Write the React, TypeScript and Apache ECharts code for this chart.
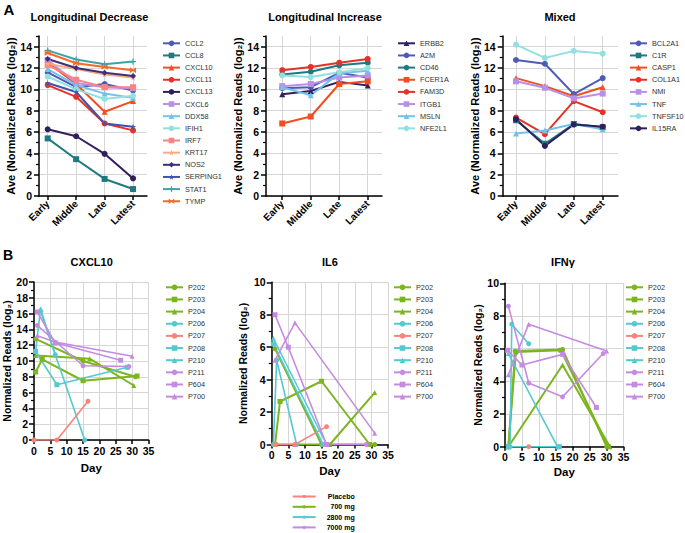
import React, { useEffect, useRef } from 'react';
import * as echarts from 'echarts';

const FONT = '"Liberation Sans", Arial, Helvetica, sans-serif';

const STAGES = ['Early', 'Middle', 'Late', 'Latest'];

const STAR = 'path://M50,0 L61,35 L98,35 L68,57 L79,91 L50,70 L21,91 L32,57 L2,35 L39,35 Z';
const PLUS = 'path://M40,0 L60,0 L60,40 L100,40 L100,60 L60,60 L60,100 L40,100 L40,60 L0,60 L0,40 L40,40 Z';
const BOWTIE = 'path://M0,0 L50,40 L100,0 L100,100 L50,60 L0,100 Z';

// ---- Panel A: Longitudinal Decrease ----
const decreaseGenes = ['CCL2', 'CCL8', 'CXCL10', 'CXCL11', 'CXCL13', 'CXCL6', 'DDX58', 'IFIH1', 'IRF7', 'KRT17', 'NOS2', 'SERPING1', 'STAT1', 'TYMP'];
const decreaseValues = [
  [11.6, 10.2, 10.5, 9.9],
  [5.4, 3.45, 1.6, 0.65],
  [12.5, 10.5, 7.9, 8.9],
  [10.4, 9.3, 6.8, 6.15],
  [6.25, 5.6, 3.95, 1.65],
  [12.75, 10.6, 10.2, 10.1],
  [11.9, 10.4, 9.6, 9.2],
  [11.2, 10.0, 9.1, 9.4],
  [12.3, 10.9, 10.2, 10.2],
  [12.4, 11.9, 11.4, 11.1],
  [12.85, 12.0, 11.55, 11.25],
  [10.6, 9.75, 6.8, 6.5],
  [13.65, 12.8, 12.35, 12.6],
  [13.4, 12.45, 12.1, 11.8],
];
const decreaseColors = ['#4d5bb5', '#1f7a80', '#f04e23', '#e53228', '#2f1f5c', '#b890e6', '#72c2ec', '#92e0e2', '#f98484', '#f9ab80', '#3d2f7c', '#4152ac', '#3aa4a8', '#f26b2a'];
const decreaseSymbols = ['circle', 'rect', 'triangle', 'circle', 'circle', 'rect', 'triangle', 'circle', 'rect', STAR, 'diamond', STAR, PLUS, BOWTIE];

// ---- Panel A: Longitudinal Increase ----
const increaseGenes = ['ERBB2', 'A2M', 'CD46', 'FCER1A', 'FAM3D', 'ITGB1', 'MSLN', 'NFE2L1'];
const increaseValues = [
  [9.55, 9.85, 10.7, 10.35],
  [10.1, 10.2, 11.55, 11.1],
  [11.4, 11.65, 12.25, 12.5],
  [6.8, 7.45, 10.5, 10.75],
  [11.8, 12.1, 12.5, 12.85],
  [10.3, 10.5, 11.1, 11.3],
  [10.2, 9.45, 11.5, 11.75],
  [11.3, 11.15, 11.6, 12.0],
];
const increaseColors = ['#2f1f5c', '#4d5bb5', '#1f7a80', '#f04e23', '#e53228', '#b890e6', '#72c2ec', '#92e0e2'];
const increaseSymbols = ['triangle', 'circle', 'circle', 'rect', 'circle', 'rect', 'triangle', 'circle'];

// ---- Panel A: Mixed ----
const mixedGenes = ['BCL2A1', 'C1R', 'CASP1', 'COL1A1', 'NMI', 'TNF', 'TNFSF10', 'IL15RA'];
const mixedValues = [
  [12.75, 12.4, 9.55, 11.05],
  [7.1, 4.9, 6.75, 6.45],
  [11.05, 10.3, 9.35, 10.2],
  [7.35, 5.8, 8.9, 7.85],
  [10.75, 10.15, 9.15, 9.6],
  [5.85, 6.15, 6.75, 6.25],
  [14.2, 12.95, 13.6, 13.35],
  [7.2, 4.7, 6.7, 6.5],
];
const mixedColors = ['#4d5bb5', '#1f7a80', '#f04e23', '#e53228', '#b890e6', '#72c2ec', '#92e0e2', '#2f1f5c'];
const mixedSymbols = ['circle', 'rect', 'triangle', 'circle', 'rect', 'triangle', 'circle', 'circle'];

// ---- Panel B ----
const patients = ['P202', 'P203', 'P204', 'P206', 'P207', 'P208', 'P210', 'P211', 'P604', 'P700'];
const patientDose = ['700 mg', '700 mg', '700 mg', '2800 mg', 'Placebo', '2800 mg', '2800 mg', '7000 mg', '7000 mg', '7000 mg'];
const patientSymbols = ['circle', 'rect', 'triangle', 'circle', 'circle', 'rect', 'triangle', 'circle', 'rect', 'triangle'];
const doseGroups = ['Placebo', '700 mg', '2800 mg', '7000 mg'];
const doseColors = ['#f8837c', '#7cb51f', '#56c8d0', '#c58be0'];

const cxcl10Points: number[][][] = [
  [[0.5, 12.8], [15, 10.0], [31, 8.0]],
  [[0.5, 8.6], [2.5, 10.2], [15, 7.5], [31.5, 8.1]],
  [[0.5, 10.7], [17, 10.3], [30.5, 6.9]],
  [[2, 16.3], [6.5, 10.8], [15.5, 0]],
  [[0, 0], [7, 0], [16.5, 4.9]],
  [[0.5, 11.2], [7, 7.0], [28.5, 9.2]],
  [[0.5, 11.2], [2, 16.6], [6.5, 10.8]],
  [[1, 14.5], [15, 9.4], [29, 9.3]],
  [[1, 16.2], [6.5, 12.3], [26.5, 10.1]],
  [[1, 13.2], [6.5, 12.4], [30, 10.6]],
];
const il6Points: number[][][] = [
  [[1, 5.9], [15, 0], [31, 0]],
  [[1, 0], [2.5, 2.65], [15, 3.9], [29.5, 0]],
  [[1, 0], [7, 0], [17.5, 0], [31, 3.2]],
  [[0.5, 0], [1.5, 5.2], [7.5, 0]],
  [[1, 0], [7, 0], [16.5, 1.1]],
  [[0.5, 6.2], [15.5, 0]],
  [[0.5, 6.55], [16.5, 0]],
  [[16.5, 0], [28.5, 0]],
  [[1, 8.0], [5, 6.0], [16.5, 0]],
  [[1, 5.2], [7, 7.5], [31, 0.7]],
];
const ifngPoints: number[][][] = [
  [[1, 0], [3, 5.85], [17, 5.95], [30, 0]],
  [[1, 0], [3.2, 5.8], [16.5, 5.9], [30.5, 0]],
  [[1, 0], [17, 5.0], [31, 0]],
  [[1.5, 0], [2, 7.5], [7, 6.3]],
  [[1, 0], [7, 0], [16, 0]],
  [[1, 0], [16, 0]],
  [[1, 5.7], [15.5, 0]],
  [[1, 8.6], [7, 3.9], [17, 3.05], [29, 5.7]],
  [[0.8, 5.9], [5, 5.0], [17, 5.65], [27, 2.4]],
  [[1, 4.4], [7, 7.5], [30, 5.85]],
];

const A_Y_MAJOR = [0, 2, 4, 6, 8, 10, 12, 14];
const A_Y_MINOR = [1, 3, 5, 7, 9, 11, 13, 15];
const STAGE_POS = [1, 2, 3, 4];

const GRID_LINE = '#d6d6d6';
const AXIS_LINE = { show: true, onZero: false, lineStyle: { color: '#000', width: 1.5 } };
const tickLabel = { color: '#000', fontWeight: 'bold' as const, fontSize: 10.5, fontFamily: FONT };

function doseColor(p: number) {
  return doseColors[doseGroups.indexOf(patientDose[p])];
}

function buildOption() {
  const grids = [
    { left: 39, top: 36, width: 108, height: 160 },
    { left: 266, top: 36, width: 116, height: 160 },
    { left: 502.7, top: 36, width: 115.3, height: 160 },
    { left: 34, top: 282, width: 114.5, height: 158 },
    { left: 271.7, top: 282.3, width: 116.3, height: 162.2 },
    { left: 505, top: 283.3, width: 118.5, height: 163.4 },
  ];
  const aXRange = [
    [0.695, 4.49],
    [0.43, 4.5],
    [0.54, 4.53],
  ];
  const aNameGap = [20, 20, 22];
  const bNameGap = [14, 23, 22];
  const bDayGap = [22, 20, 19];
  const bYMax = [20, 10, 10];

  const xAxis: any[] = [];
  const yAxis: any[] = [];
  for (let g = 0; g < 3; g++) {
    xAxis.push({
      type: 'value', gridIndex: g, min: aXRange[g][0], max: aXRange[g][1],
      axisLine: AXIS_LINE,
      axisTick: { show: true, customValues: STAGE_POS, length: 4, lineStyle: { color: '#000', width: 1.5 } },
      axisLabel: { ...tickLabel, fontSize: 10, customValues: STAGE_POS, rotate: 45, margin: 6, formatter: (v: number) => STAGES[Math.round(v) - 1] },
      splitLine: { show: true, lineStyle: { color: GRID_LINE, width: 1 } },
    });
    yAxis.push({
      type: 'value', gridIndex: g, min: 0, max: 15,
      axisLine: AXIS_LINE,
      axisTick: { show: true, customValues: A_Y_MAJOR, length: 5, lineStyle: { color: '#000', width: 1.5 } },
      axisLabel: { ...tickLabel, customValues: A_Y_MAJOR, margin: 7 },
      splitLine: { show: true, lineStyle: { color: GRID_LINE, width: 1.2 } },
      name: 'Ave (Normalized Reads (log\u2082))', nameLocation: 'middle', nameGap: aNameGap[g],
      nameTextStyle: { color: '#000', fontWeight: 'bold', fontSize: 11, fontFamily: FONT },
    });
  }
  for (let b = 0; b < 3; b++) {
    const g = b + 3;
    xAxis.push({
      type: 'value', gridIndex: g, min: 0, max: 35, interval: 5,
      axisLine: AXIS_LINE,
      axisTick: { show: true, length: 4, lineStyle: { color: '#000', width: 1.5 } },
      axisLabel: { ...tickLabel, margin: 5 },
      splitLine: { show: true, lineStyle: { color: GRID_LINE, width: 1 } },
      name: 'Day', nameLocation: 'middle', nameGap: bDayGap[b],
      nameTextStyle: { color: '#000', fontWeight: 'bold', fontSize: 11.5, fontFamily: FONT },
    });
    yAxis.push({
      type: 'value', gridIndex: g, min: 0, max: bYMax[b], interval: 2,
      axisLine: AXIS_LINE,
      axisTick: { show: true, length: 5, lineStyle: { color: '#000', width: 1.5 } },
      minorTick: { show: true, splitNumber: 2, length: 3, lineStyle: { color: '#000', width: 1.2 } },
      axisLabel: { ...tickLabel, margin: 6 },
      splitLine: { show: true, lineStyle: { color: GRID_LINE, width: 1.2 } },
      name: 'Normalized Reads (log\u2082)', nameLocation: 'middle', nameGap: bNameGap[b],
      nameTextStyle: { color: '#000', fontWeight: 'bold', fontSize: 10.5, fontFamily: FONT },
    });
  }
  // minor tick axes for panel A
  for (let g = 0; g < 3; g++) {
    yAxis.push({
      type: 'value', gridIndex: g, min: 0, max: 15, position: 'left',
      axisLine: { show: false },
      axisTick: { show: true, customValues: A_Y_MINOR, length: 3, lineStyle: { color: '#000', width: 1.2 } },
      axisLabel: { show: false },
      splitLine: { show: false },
    });
  }

  const series: any[] = [];
  const addA = (genes: string[], values: number[][], colors: string[], symbols: string[], idx: number) => {
    genes.forEach((name, i) => {
      series.push({
        type: 'line', name, xAxisIndex: idx, yAxisIndex: idx,
        data: values[i].map((v, j) => [STAGE_POS[j], v]),
        symbol: symbols[i], symbolSize: 6,
        lineStyle: { color: colors[i], width: 2 },
        itemStyle: { color: colors[i] },
      });
    });
  };
  addA(decreaseGenes, decreaseValues, decreaseColors, decreaseSymbols, 0);
  addA(increaseGenes, increaseValues, increaseColors, increaseSymbols, 1);
  addA(mixedGenes, mixedValues, mixedColors, mixedSymbols, 2);

  const addB = (points: number[][][], idx: number) => {
    patients.forEach((name, i) => {
      const c = doseColor(i);
      const green = patientDose[i] === '700 mg';
      series.push({
        type: 'line', name, xAxisIndex: idx, yAxisIndex: idx,
        data: points[i],
        symbol: patientSymbols[i], symbolSize: 5,
        lineStyle: { color: c, width: green ? 2 : 1.6 },
        itemStyle: { color: c },
      });
    });
  };
  addB(cxcl10Points, 3);
  addB(il6Points, 4);
  addB(ifngPoints, 5);

  doseGroups.forEach((name, i) => {
    series.push({
      type: 'line', name, xAxisIndex: 3, yAxisIndex: 3, data: [],
      symbol: 'none', lineStyle: { color: doseColors[i], width: 2 }, itemStyle: { color: doseColors[i] },
    });
  });

  const legendText = { fontSize: 7.3, lineHeight: 9, color: '#333', fontFamily: FONT };
  const mkLegend = (data: string[], left: number, top: number) => ({
    data, left, top, orient: 'vertical', itemWidth: 17, itemHeight: 7, itemGap: 3.15,
    textStyle: legendText, selectedMode: false, padding: 0,
  });

  const legend: any[] = [
    mkLegend(decreaseGenes, 162, 38.8),
    mkLegend(increaseGenes, 397, 38.8),
    mkLegend(mixedGenes, 629, 38.8),
    mkLegend(patients, 165, 282.8),
    mkLegend(patients, 393, 282.8),
    mkLegend(patients, 625, 282.8),
    {
      data: doseGroups, left: 291.7, top: 492.5, orient: 'vertical', itemWidth: 23, itemHeight: 4, itemGap: 2.3,
      selectedMode: false, padding: 0,
      formatter: '{r|{name}}',
      textStyle: {
        fontSize: 7, lineHeight: 8, color: '#000', fontWeight: 'bold', fontFamily: FONT,
        rich: { r: { width: 34, align: 'right', fontSize: 7, fontWeight: 'bold', color: '#000', fontFamily: FONT } },
      },
    },
  ];

  const txt = (text: string, x: number, y: number, size: number) => ({
    type: 'text', x, y,
    style: { text, fontSize: size, fontWeight: 'bold', fontFamily: FONT, fill: '#000', align: 'center', verticalAlign: 'middle' },
  });

  const graphic = [
    txt('A', 9, 9, 15),
    txt('B', 8, 255, 14),
    txt('Longitudinal Decrease', 89.5, 17, 11),
    txt('Longitudinal Increase', 325, 17, 11),
    txt('Mixed', 560, 17, 11),
    txt('CXCL10', 91.7, 261.5, 11),
    txt('IL6', 330, 262.3, 11),
    txt('IFN\u03b3', 563, 262.3, 11),
  ];

  return {
    animation: false,
    backgroundColor: '#fff',
    textStyle: { fontFamily: FONT },
    grid: grids,
    xAxis,
    yAxis,
    series,
    legend,
    graphic,
  };
}

export default function App() {
  const ref = useRef<HTMLDivElement>(null);
  useEffect(() => {
    if (!ref.current) return;
    const chart = echarts.init(ref.current, undefined, { renderer: 'svg' });
    chart.setOption(buildOption() as any);
    return () => chart.dispose();
  }, []);
  return <div ref={ref} style={{ position: 'fixed', left: 0, top: 0, width: 685, height: 533, background: '#fff' }} />;
}
